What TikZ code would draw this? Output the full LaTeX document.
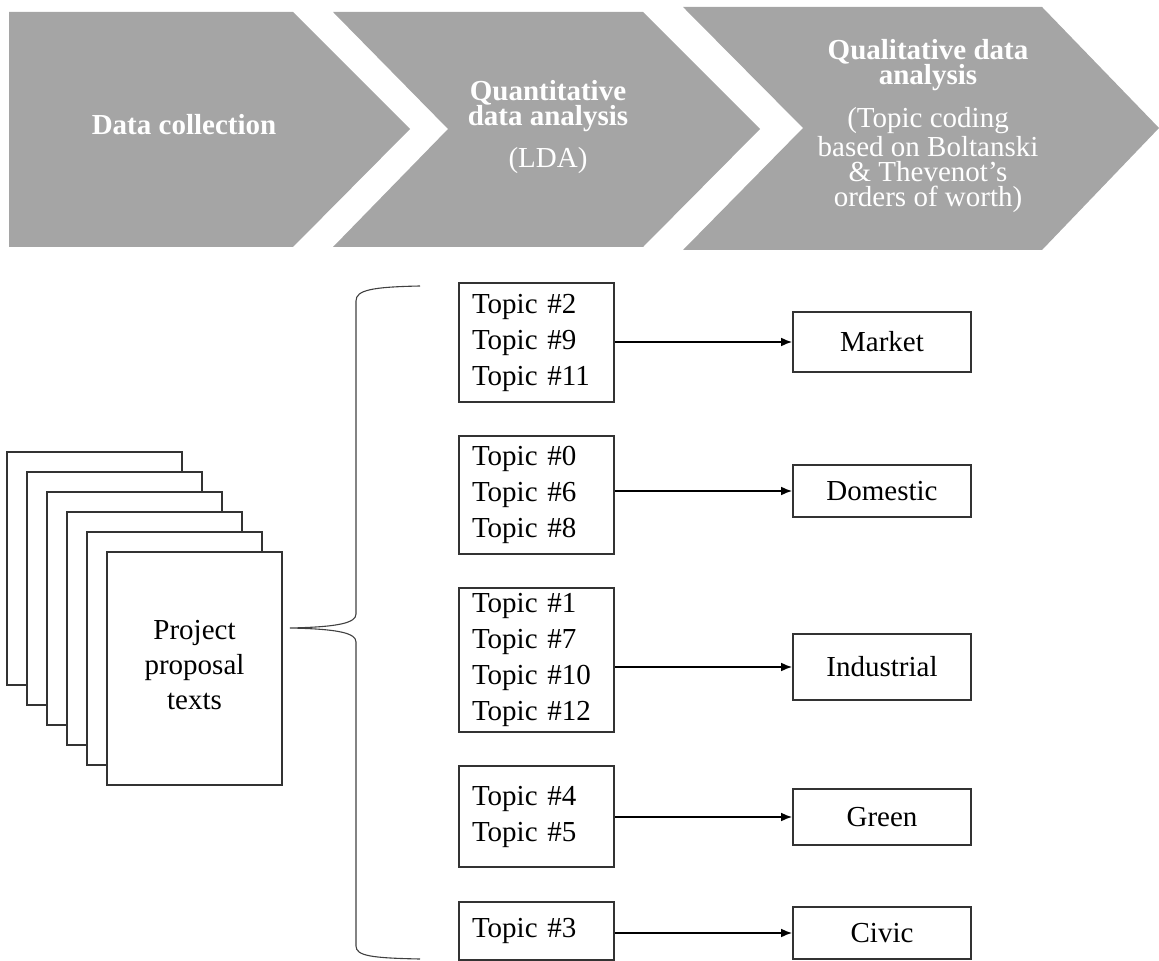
\documentclass[tikz,border=0pt]{standalone}
\usepackage{fontspec}
\setmainfont{Liberation Serif}
\usetikzlibrary{arrows.meta}
\definecolor{stagegray}{RGB}{165,165,165}

\begin{document}
\begin{tikzpicture}[
  x = 0.5pt, y = -0.5pt,
  stage/.style={fill=stagegray},
  stagetext/.style={text=white, align=center, inner sep=0pt, font=\fontsize{14.5}{12.5}\selectfont},
  paper/.style={draw=black!80, line width=0.8pt, fill=white},
  doctext/.style={align=center, inner sep=0pt, font=\fontsize{14.5}{17.5}\selectfont},
  topicbox/.style={draw=black!80, line width=0.8pt, text width=64.5pt, inner xsep=6.5pt, inner ysep=0pt, align=left, font=\fontsize{14.5}{18}\selectfont},
  worthbox/.style={draw=black!80, line width=0.8pt, minimum width=89pt, inner sep=0pt, font=\fontsize{14.5}{18}\selectfont},
  flow/.style={-{Latex[length=5.5pt,width=4.4pt]}, line width=0.9pt},
  bracket/.style={draw=black!75, line width=0.55pt}
]
%general params
\def\docw{175} %document width
\def\doch{233} %document height
\def\tx{536.5} %topic column
\def\wx{882}   %worth column
\useasboundingbox (0,0) rectangle (1159,961);

%stages
\fill[stage] (9,12) -- (293,12) -- (410,129) -- (293,247) -- (9,247) -- cycle;
\fill[stage] (333,12) -- (643,12) -- (760,129) -- (643,247) -- (333,247) -- (448,129) -- cycle;
\fill[stage] (683,7) -- (1042,7) -- (1159,128) -- (1042,250) -- (683,250) -- (803,128) -- cycle;

\node[stagetext] (collect) at (184,125) {\bfseries Data collection};
\node[stagetext] (quant) at (548,127) {\bfseries Quantitative\\\bfseries data analysis\\[7pt](LDA)};
\node[stagetext] (qual) at (928,126) {\bfseries Qualitative data\\\bfseries analysis\\[7.5pt](Topic coding\\based on Boltanski\\\& Thevenot’s\\orders of worth)};

%documents
\foreach \i in {0,...,5}
  \draw[paper] (7+20*\i, 452+20*\i) rectangle +(\docw,\doch);
\node[doctext] (docs) at (194.5,665) {Project\\proposal\\texts};

%brace
\draw[bracket] (420,286) .. controls (372,287) and (356,290) .. (356,301)
  -- (356,614) .. controls (356,623) and (338,627) .. (290,628)
  .. controls (338,629) and (356,633) .. (356,642)
  -- (356,946) .. controls (356,956) and (372,958) .. (420,959);

%topics
\node[topicbox, minimum height=59.5pt] (tmarket)     at (\tx,342.5) {Topic \#2\\Topic \#9\\Topic \#11};
\node[topicbox, minimum height=59pt]   (tdomestic)   at (\tx,495)   {Topic \#0\\Topic \#6\\Topic \#8};
\node[topicbox, minimum height=72pt]   (tindustrial) at (\tx,660)   {Topic \#1\\Topic \#7\\Topic \#10\\Topic \#12};
\node[topicbox, minimum height=50.5pt] (tgreen)      at (\tx,816.5) {Topic \#4\\Topic \#5};
\node[topicbox, minimum height=29pt]   (tcivic)      at (\tx,931)   {Topic \#3};

%orders of worth
\node[worthbox, minimum height=30pt] (wmarket)     at (\wx,342) {Market};
\node[worthbox, minimum height=26pt] (wdomestic)   at (\wx,491) {Domestic};
\node[worthbox, minimum height=33pt] (windustrial) at (\wx,667) {Industrial};
\node[worthbox, minimum height=28pt] (wgreen)      at (\wx,817) {Green};
\node[worthbox, minimum height=26pt] (wcivic)      at (\wx,933) {Civic};

\foreach \w in {market,domestic,industrial,green,civic}
  \draw[flow] (t\w.east |- w\w.west) -- (w\w.west);

\end{tikzpicture}
\end{document}
